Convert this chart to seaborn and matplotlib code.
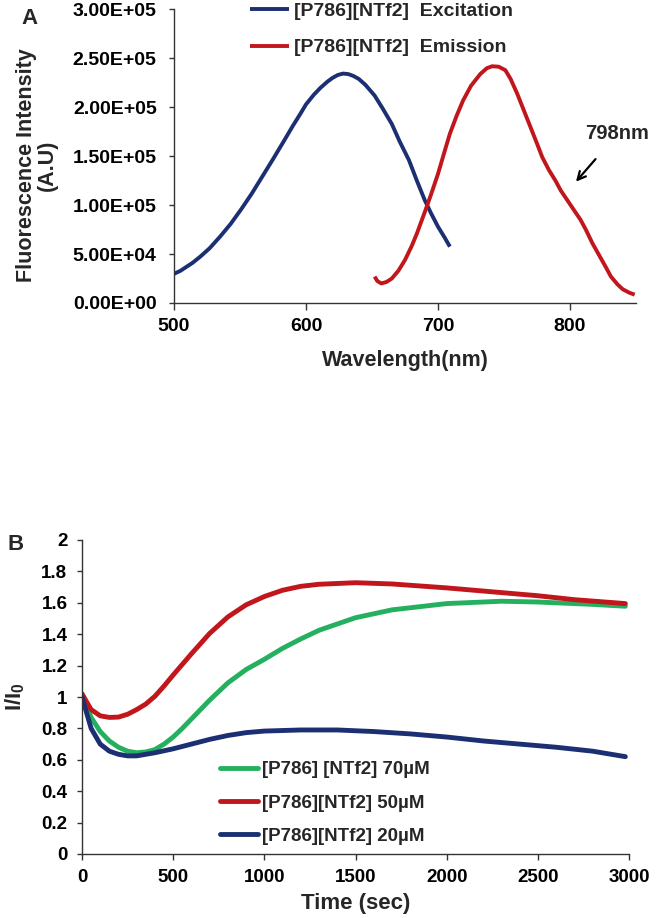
import numpy as np
import pandas as pd
import matplotlib
matplotlib.use("Agg")
import matplotlib.pyplot as plt
import seaborn as sns

sns.set_theme(style="ticks")
plt.rcParams['font.family'] = ['Liberation Sans', 'DejaVu Sans']
plt.rcParams['font.weight'] = 'bold'
plt.rcParams['mathtext.fontset'] = 'custom'
plt.rcParams['mathtext.rm'] = 'Liberation Sans:bold'
plt.rcParams['mathtext.bf'] = 'Liberation Sans:bold'
plt.rcParams['mathtext.it'] = 'Liberation Sans:bold'

# ---------------- Panel A data ----------------
ex_wl = [500, 505, 510, 514, 520, 527, 535, 543, 551, 559, 567, 575, 583, 590, 596, 600, 606, 611, 616,
         620, 624, 628, 632, 636, 640, 645, 652, 658, 665, 671, 678, 684, 690, 695, 700, 705, 709]
ex_int = [29800, 33000, 37500, 41000, 47500, 56000, 68000, 81000, 96000, 112000, 129500, 147000, 165000,
          181000, 194000, 203000, 213000, 220000, 226000, 230000, 233000, 234500, 234000, 232000, 229000,
          223000, 212000, 199000, 183000, 165000, 146000, 125000, 105000, 91000, 78000, 67000, 57600]
em_wl = [652, 654, 657, 661, 665, 670, 675, 680, 684, 690, 695, 700, 705, 709, 714, 719, 725, 732, 737, 741,
         746, 751, 755, 760, 765, 770, 775, 779, 784, 789, 793, 798, 803, 808, 812, 817, 822, 827, 831, 836,
         840, 845, 849]
em_int = [27000, 22500, 20000, 21500, 25000, 33000, 44000, 58000, 71000, 93000, 112000, 132000, 155000,
          173000, 191000, 207000, 222000, 234000, 240000, 242000, 241500, 238000, 229000, 214000, 197000,
          180000, 163000, 149000, 136000, 125000, 115000, 105000, 95000, 85000, 75000, 61000, 49000, 37000,
          27000, 19000, 14000, 10500, 8500]
a_xticks = [500, 600, 700, 800]
a_yticks = [0, 50000, 100000, 150000, 200000, 250000, 300000]
a_ytick_labels = ["0.00E+00", "5.00E+04", "1.00E+05", "1.50E+05", "2.00E+05", "2.50E+05", "3.00E+05"]
a_series = ["[P786][NTf2]  Excitation", "[P786][NTf2]  Emission"]

# ---------------- Panel B data ----------------
t_red = [0, 50, 100, 150, 200, 250, 300, 350, 400, 450, 500, 600, 700, 800, 900, 1000, 1100, 1200, 1300,
         1500, 1700, 2000, 2200, 2500, 2700, 2980]
r_red = [1.02, 0.92, 0.88, 0.87, 0.872, 0.89, 0.92, 0.955, 1.005, 1.07, 1.14, 1.275, 1.405, 1.51, 1.587,
         1.64, 1.68, 1.705, 1.718, 1.728, 1.72, 1.695, 1.675, 1.645, 1.62, 1.595]
t_green = [0, 50, 100, 150, 200, 250, 300, 350, 400, 450, 500, 550, 600, 700, 800, 900, 1000, 1100, 1200,
           1300, 1400, 1500, 1700, 2000, 2300, 2500, 2800, 2980]
r_green = [1.02, 0.87, 0.78, 0.72, 0.68, 0.655, 0.645, 0.65, 0.665, 0.70, 0.745, 0.80, 0.86, 0.98, 1.09,
           1.175, 1.24, 1.31, 1.37, 1.425, 1.465, 1.505, 1.555, 1.595, 1.61, 1.605, 1.59, 1.578]
t_blue = [0, 50, 100, 150, 200, 250, 300, 400, 500, 600, 700, 800, 900, 1000, 1200, 1400, 1600, 1800,
          2000, 2200, 2400, 2600, 2800, 2980]
r_blue = [1.0, 0.80, 0.70, 0.655, 0.635, 0.625, 0.625, 0.645, 0.67, 0.70, 0.73, 0.755, 0.773, 0.783,
          0.79, 0.79, 0.78, 0.765, 0.745, 0.72, 0.70, 0.68, 0.655, 0.62]
b_series = ["[P786] [NTf2] 70\u00b5M", "[P786][NTf2] 50\u00b5M", "[P786][NTf2] 20\u00b5M"]
b_xticks = [0, 500, 1000, 1500, 2000, 2500, 3000]
b_yticks = [0, 0.2, 0.4, 0.6, 0.8, 1.0, 1.2, 1.4, 1.6, 1.8, 2.0]
b_ytick_labels = ["0", "0.2", "0.4", "0.6", "0.8", "1", "1.2", "1.4", "1.6", "1.8", "2"]

BLUE = "#1B2F72"
RED = "#C0161C"
GREEN = "#25B060"
AXC = "#333333"

W, H = 656, 918
fig = plt.figure(figsize=(W / 100, H / 100), dpi=100)

def frac(l, r, t, b):
    return [l / W, 1 - b / H, (r - l) / W, (b - t) / H]

# ---------------- Panel A ----------------
axA = fig.add_axes(frac(174, 636, 9.5, 303))
dfA = pd.concat([
    pd.DataFrame({"wl": ex_wl, "I": ex_int, "s": a_series[0]}),
    pd.DataFrame({"wl": em_wl, "I": em_int, "s": a_series[1]}),
])
sns.lineplot(data=dfA, x="wl", y="I", hue="s", palette=[BLUE, RED], sort=False,
             estimator=None, lw=2.8, ax=axA, solid_joinstyle='round', solid_capstyle='butt')
axA.set_xlim(500, 850)
axA.set_ylim(0, 300000)
axA.set_xticks(a_xticks)
axA.set_yticks(a_yticks)
axA.set_yticklabels(a_ytick_labels)
axA.tick_params(axis='y', length=3.5, width=1, pad=9, labelsize=14, colors=AXC, labelcolor='black')
axA.tick_params(axis='x', length=5, width=1, pad=6, labelsize=14, colors=AXC, labelcolor='black')
for s in ['top', 'right']:
    axA.spines[s].set_visible(False)
for s in ['left', 'bottom']:
    axA.spines[s].set_color(AXC)
    axA.spines[s].set_linewidth(1)
axA.set_xlabel("Wavelength(nm)", fontsize=15.5, fontweight='bold')
axA.xaxis.set_label_coords(0.5, -0.16)
axA.set_ylabel("Fluorescence Intensity\n(A.U)", fontsize=15.5, fontweight='bold', linespacing=1.0)
axA.yaxis.set_label_coords(-0.251, 0.47)
legA = axA.legend(frameon=False, loc='center left', bbox_to_anchor=(250 / W, 1 - 29.5 / H),
                  bbox_transform=fig.transFigure, fontsize=14, handlelength=2.0,
                  handletextpad=0.25, labelspacing=0.95, borderpad=0, borderaxespad=0)
for line in legA.get_lines():
    line.set_linewidth(2.8)
axA.annotate("798nm", xy=(804.5, 124000), xytext=(836, 173000), fontsize=14.5, fontweight='bold',
             ha='center', va='center', annotation_clip=False,
             arrowprops=dict(arrowstyle='->', color='black', lw=1.6, shrinkA=12, shrinkB=0))
fig.text(30 / W, 1 - 18 / H, "A", fontsize=16, fontweight='bold', ha='center', va='center')

# ---------------- Panel B ----------------
axB = fig.add_axes(frac(82, 629, 540, 854))
dfB = pd.concat([
    pd.DataFrame({"t": t_green, "r": r_green, "s": b_series[0]}),
    pd.DataFrame({"t": t_red, "r": r_red, "s": b_series[1]}),
    pd.DataFrame({"t": t_blue, "r": r_blue, "s": b_series[2]}),
])
sns.lineplot(data=dfB, x="t", y="r", hue="s", palette=[GREEN, RED, BLUE], sort=False,
             estimator=None, lw=3.5, ax=axB, solid_joinstyle='round')
axB.set_xlim(0, 3000)
axB.set_ylim(0, 2)
axB.set_xticks(b_xticks)
axB.set_yticks(b_yticks)
axB.set_yticklabels(b_ytick_labels)
axB.tick_params(axis='y', length=3.5, width=1, pad=7, labelsize=13.5, colors=AXC, labelcolor='black')
axB.tick_params(axis='x', length=4, width=1, pad=7, labelsize=13.5, colors=AXC, labelcolor='black')
for s in ['top', 'right']:
    axB.spines[s].set_visible(False)
for s in ['left', 'bottom']:
    axB.spines[s].set_color(AXC)
    axB.spines[s].set_linewidth(1)
axB.set_xlabel("Time (sec)", fontsize=16, fontweight='bold')
axB.xaxis.set_label_coords(0.5, -0.125)
axB.set_ylabel(r"I/I$_{0}$", fontsize=16, fontweight='bold')
axB.yaxis.set_label_coords(-0.1, 0.5)
legB = axB.legend(frameon=False, loc='center left', bbox_to_anchor=(220 / W, 1 - 803 / H),
                  bbox_transform=fig.transFigure, fontsize=13.5, handlelength=2.0,
                  handletextpad=0.25, labelspacing=0.85, borderpad=0, borderaxespad=0)
for line in legB.get_lines():
    line.set_linewidth(3.5)
fig.text(16 / W, 1 - 545 / H, "B", fontsize=16, fontweight='bold', ha='center', va='center')

fig.savefig("out.png", dpi=100)
